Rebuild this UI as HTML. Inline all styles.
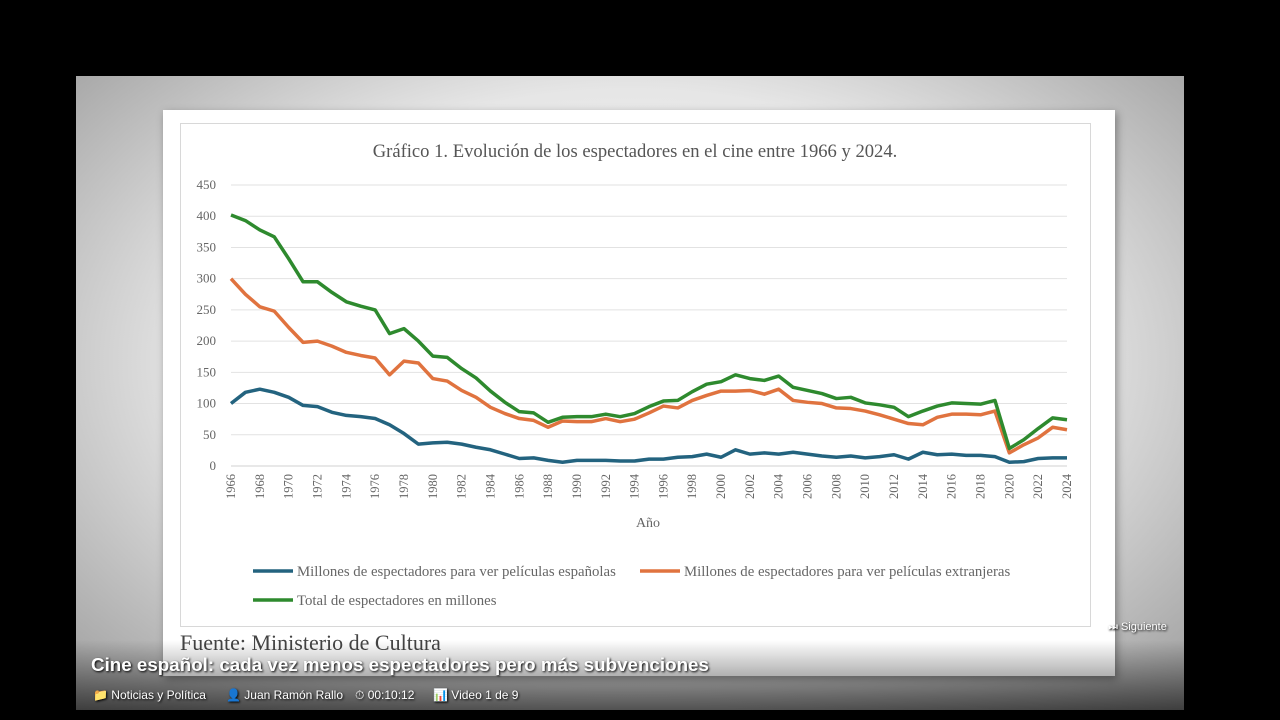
<!DOCTYPE html>
<html><head><meta charset="utf-8"><style>
body{margin:0;width:1280px;height:720px;background:#000;overflow:hidden;position:relative;font-family:"Liberation Sans",sans-serif}
#panel{position:absolute;left:76px;top:76px;width:1108px;height:634px;background:radial-gradient(ellipse at 50% 45%,#fafafa 0%,#e6e6e6 55%,#9a9a9a 100%)}
#paper{position:absolute;left:163px;top:110px;width:952px;height:566px;background:#fff;box-shadow:2px 3px 8px rgba(0,0,0,.35)}
#frame{position:absolute;left:180px;top:123px;width:909px;height:502px;border:1px solid #d8d8d8}
.cap{position:absolute;color:#fff;font-weight:bold;text-shadow:1px 1px 2px #000}
.meta{position:absolute;color:#fff;font-size:12px;text-shadow:1px 1px 2px #000}
</style></head><body>
<div id="panel"></div>
<div id="paper"></div>
<div id="frame"></div>
<svg id="chart" width="1280" height="720" style="position:absolute;left:0;top:0"></svg>
<div style="position:absolute;left:180px;top:630px;width:280px;height:28px;font-family:'Liberation Serif',serif;font-size:22px;color:#444;overflow:hidden">Fuente: Ministerio de Cultura</div>
<div style="position:absolute;left:76px;top:640px;width:1108px;height:70px;background:linear-gradient(rgba(0,0,0,0),rgba(0,0,0,.6))"></div>
<div class="cap" style="left:91px;top:654px;font-size:18.8px">Cine español: cada vez menos espectadores pero más subvenciones</div>
<div class="meta" style="left:1108px;top:621px;font-size:11px">⏭ Siguiente</div>
<div class="meta" style="left:93px;top:688px">📁 Noticias y Política</div>
<div class="meta" style="left:226px;top:688px">👤 Juan Ramón Rallo</div>
<div class="meta" style="left:355px;top:688px">⏱ 00:10:12</div>
<div class="meta" style="left:433px;top:688px">📊 Video 1 de 9</div>
<script>
const years=[];for(let y=1966;y<=2024;y++)years.push(y);
const spanish=[100,118,123,118,110,97,95,86,81,79,76,66,52,35,37,38,35,30,26,19,12,13,9,6,9,9,9,8,8,11,11,14,15,19,14,26,19,21,19,22,19,16,14,16,13,15,18,11,22,18,19,17,17,15,6,7,12,13,13];
const foreign=[300,275,255,248,222,198,200,192,182,177,173,146,168,165,140,136,121,110,94,84,76,73,62,72,71,71,76,71,75,85,96,93,105,113,120,120,121,115,123,105,102,100,93,92,88,82,75,68,66,78,83,83,82,88,21,34,45,62,58];
const total=[402,393,378,367,332,295,295,278,263,256,250,212,220,200,176,174,156,141,120,102,87,85,70,78,79,79,83,79,84,95,104,105,119,131,135,146,140,137,144,126,121,116,108,110,101,98,94,79,88,96,101,100,99,105,28,42,60,77,74];
const yTicks=[0,50,100,150,200,250,300,350,400,450];
const NS='http://www.w3.org/2000/svg',svg=document.getElementById('chart');
const X=y=>231+(y-1966)*(1067-231)/58, Y=v=>466-v*(466-185)/450;
function mk(t,a,txt){const e=document.createElementNS(NS,t);for(const k in a)e.setAttribute(k,a[k]);if(txt!=null)e.textContent=txt;svg.appendChild(e);return e;}
const serif='"Liberation Serif",serif';
let t=mk('text',{x:635,y:157,'text-anchor':'middle','font-family':serif,'font-size':18.6,fill:'#555'},'Gráfico 1. Evolución de los espectadores en el cine entre 1966 y 2024.');

yTicks.forEach(v=>{
 let g=mk('line',{x1:231,x2:1067,y1:Y(v),y2:Y(v),stroke:v?'#e2e2e2':'#d0d0d0','stroke-width':1});
 
 let l=mk('text',{x:216,y:Y(v)+4,'text-anchor':'end','font-family':serif,'font-size':13,fill:'#666'},v);
 
});
years.forEach(y=>{if(y%2)return;
 let l=mk('text',{x:X(y)+4,y:474,'text-anchor':'end','font-family':serif,'font-size':12.5,fill:'#666',transform:`rotate(-90 ${X(y)+4} 474)`},y);
 
});
t=mk('text',{x:648,y:527,'text-anchor':'middle','font-family':serif,'font-size':14,fill:'#666'},'Año');

const series=[[spanish,'#23637f','series-spanish'],[foreign,'#e0733f','series-foreign'],[total,'#2e8a2e','series-total']];
series.forEach(([d,c,n])=>{
 let p=mk('polyline',{points:d.map((v,i)=>X(years[i])+','+Y(v)).join(' '),fill:'none',stroke:c,'stroke-width':3.5,'stroke-linejoin':'round'});
 
});
const legend=[[253,571,'#23637f','Millones de espectadores para ver películas españolas'],[640,571,'#e0733f','Millones de espectadores para ver películas extranjeras'],[253,600,'#2e8a2e','Total de espectadores en millones']];
legend.forEach(([x,y,c,s])=>{
 let g=mk('line',{x1:x,x2:x+40,y1:y,y2:y,stroke:c,'stroke-width':3.5});
 
 let l=mk('text',{x:x+44,y:y+5,'font-family':serif,'font-size':14.8,fill:'#666'},s);
 
});
</script>
</body></html>
